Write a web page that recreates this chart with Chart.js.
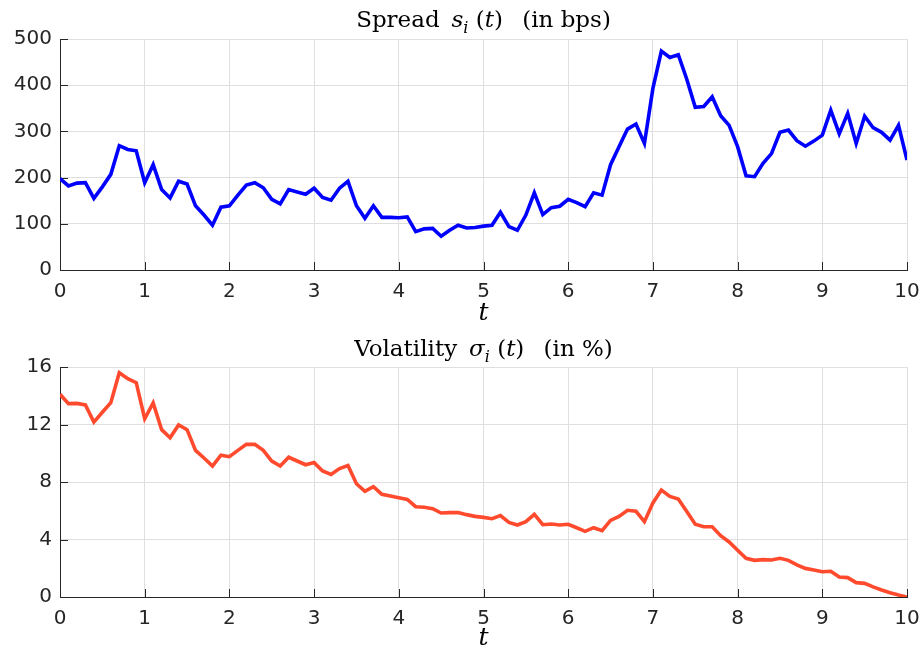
<!DOCTYPE html>
<html>
<head>
<meta charset="utf-8">
<title>Spread and volatility</title>
<script src="https://cdn.jsdelivr.net/npm/chart.js@4/dist/chart.umd.min.js"></script>
<style>
  body { margin: 0; background: #fff; }
  canvas { position: absolute; left: 0; }
</style>
</head>
<body>
<canvas id="spreadChart" width="922" height="326" style="top:0"></canvas>
<canvas id="volChart" width="922" height="325" style="top:326px"></canvas>
<script>
const tValues = [
  0, 0.1, 0.2, 0.3, 0.4, 0.5, 0.6, 0.7, 0.8, 0.9,
  1, 1.1, 1.2, 1.3, 1.4, 1.5, 1.6, 1.7, 1.8, 1.9,
  2, 2.1, 2.2, 2.3, 2.4, 2.5, 2.6, 2.7, 2.8, 2.9,
  3, 3.1, 3.2, 3.3, 3.4, 3.5, 3.6, 3.7, 3.8, 3.9,
  4, 4.1, 4.2, 4.3, 4.4, 4.5, 4.6, 4.7, 4.8, 4.9,
  5, 5.1, 5.2, 5.3, 5.4, 5.5, 5.6, 5.7, 5.8, 5.9,
  6, 6.1, 6.2, 6.3, 6.4, 6.5, 6.6, 6.7, 6.8, 6.9,
  7, 7.1, 7.2, 7.3, 7.4, 7.5, 7.6, 7.7, 7.8, 7.9,
  8, 8.1, 8.2, 8.3, 8.4, 8.5, 8.6, 8.7, 8.8, 8.9,
  9, 9.1, 9.2, 9.3, 9.4, 9.5, 9.6, 9.7, 9.8, 9.9,
  10
];

// spread s_i(t), bps
const spreadValues = [
  198, 182, 188, 189, 155, 180, 207, 269, 261, 258,
  189, 228, 174, 156, 192, 186, 139, 119, 97, 136,
  139, 162, 184, 189, 178, 153, 143, 174, 169, 164,
  177, 157, 151, 177, 192, 139, 112, 139, 114, 114,
  113, 115, 83, 89, 90, 73, 86, 97, 91, 92,
  95, 97, 125, 94, 86, 119, 167, 120, 135, 138,
  153, 146, 137, 167, 162, 228, 267, 305, 316, 274,
  393, 474, 460, 466, 413, 352, 354, 375, 334, 313,
  267, 204, 202, 231, 252, 298, 303, 280, 268, 279,
  292, 346, 295, 339, 274, 333, 308, 298, 281, 313,
  238
];

// volatility sigma_i(t), %
const volValues = [
  14.1, 13.45, 13.47, 13.36, 12.17, 12.85, 13.52, 15.6, 15.19, 14.91,
  12.4, 13.5, 11.64, 11.08, 11.97, 11.64, 10.2, 9.67, 9.11, 9.86,
  9.76, 10.2, 10.62, 10.62, 10.2, 9.46, 9.11, 9.72, 9.46, 9.2,
  9.35, 8.77, 8.53, 8.93, 9.14, 7.88, 7.35, 7.68, 7.14, 7.03,
  6.91, 6.79, 6.28, 6.24, 6.14, 5.84, 5.87, 5.87, 5.73, 5.61,
  5.54, 5.45, 5.66, 5.19, 5.01, 5.24, 5.75, 5.03, 5.08, 5.01,
  5.06, 4.82, 4.57, 4.82, 4.61, 5.33, 5.61, 6.03, 5.96, 5.24,
  6.54, 7.44, 7.0, 6.82, 5.94, 5.06, 4.89, 4.89, 4.27, 3.83,
  3.25, 2.69, 2.55, 2.6, 2.57, 2.69, 2.55, 2.23, 1.99, 1.88,
  1.76, 1.79, 1.39, 1.35, 1.0, 0.95, 0.7, 0.49, 0.3, 0.14,
  0
];

const spreadTicks = { min: 0, max: 500, step: 100 };
const volTicks = { min: 0, max: 16, step: 4 };
const xTicks = { min: 0, max: 10, step: 1 };

// title pieces: [text, style]  n = normal, i = italic, s = italic subscript
const spreadTitle = [["Spread \u2009", "n"], ["s", "i"], ["i", "s"], [" (", "n"], ["t", "i"], [")  \u2009(in bps)", "n"]];
const volTitle = [["Volatility \u2009", "n"], ["σ", "i"], ["i", "s"], [" (", "n"], ["t", "i"], [")  \u2009(in %)", "n"]];
const xLabel = "t";

const AXIS = "#262626";
const GRID = "#dfdfdf";
const SERIF = "'DejaVu Serif', 'Liberation Serif', serif";
const SANS = "'DejaVu Sans', 'Liberation Sans', sans-serif";

const mathTitle = {
  id: "mathTitle",
  afterDraw(chart, args, opts) {
    const ctx = chart.ctx;
    const size = opts.size;
    const fontFor = (st) => {
      if (st === "i") return `italic ${size}px ${SERIF}`;
      if (st === "s") return `italic ${Math.round(size * 0.7)}px ${SERIF}`;
      return `${size}px ${SERIF}`;
    };
    ctx.save();
    let total = 0;
    for (const [txt, st] of opts.parts) {
      ctx.font = fontFor(st);
      total += ctx.measureText(txt).width;
    }
    const area = chart.chartArea;
    let x = (area.left + area.right) / 2 - total / 2;
    ctx.fillStyle = "#000";
    ctx.textBaseline = "alphabetic";
    ctx.textAlign = "left";
    for (const [txt, st] of opts.parts) {
      ctx.font = fontFor(st);
      const dy = st === "s" ? size * 0.25 : 0;
      ctx.fillText(txt, x, opts.baseline + dy);
      x += ctx.measureText(txt).width;
    }
    ctx.restore();
  },
};

// MATLAB style ticks pointing into the plot
const inwardTicks = {
  id: "inwardTicks",
  beforeDatasetsDraw(chart) {
    const ctx = chart.ctx;
    const { left, bottom } = chart.chartArea;
    const len = 8;
    ctx.save();
    ctx.strokeStyle = AXIS;
    ctx.lineWidth = 1;
    ctx.beginPath();
    chart.scales.x.ticks.forEach((tk) => {
      const px = Math.round(chart.scales.x.getPixelForValue(tk.value)) + 0.5;
      ctx.moveTo(px, bottom);
      ctx.lineTo(px, bottom - len);
    });
    chart.scales.y.ticks.forEach((tk) => {
      const py = Math.round(chart.scales.y.getPixelForValue(tk.value)) + 0.5;
      ctx.moveTo(left, py);
      ctx.lineTo(left + len, py);
    });
    ctx.stroke();
    ctx.restore();
  },
};

function makeChart(canvasId, values, color, yRange, titleParts, layout) {
  const points = tValues.map((t, i) => ({ x: t, y: values[i] }));
  return new Chart(document.getElementById(canvasId), {
    type: "line",
    data: {
      datasets: [{
        data: points,
        borderColor: color,
        borderWidth: 3.6,
        pointRadius: 0,
        tension: 0,
        fill: false,
      }],
    },
    options: {
      responsive: false,
      animation: false,
      layout: { padding: { top: layout.top, right: 15, left: 0, bottom: 0 } },
      plugins: {
        legend: { display: false },
        tooltip: { enabled: false },
        mathTitle: { parts: titleParts, size: 23, baseline: layout.baseline },
      },
      scales: {
        x: {
          type: "linear",
          min: xTicks.min,
          max: xTicks.max,
          afterFit: (s) => {
            s.height = layout.xHeight;
            s.paddingLeft = 0;
            s.paddingRight = 0;
          },
          ticks: { stepSize: xTicks.step, color: AXIS, padding: 10, maxRotation: 0,
                   font: { family: SANS, size: 20 } },
          grid: { color: GRID, drawTicks: false },
          border: { display: true, color: AXIS, width: 1 },
          title: { display: true, text: xLabel, color: "#000", padding: 0,
                   font: { family: SERIF, style: "italic", size: 25, lineHeight: 1.0 } },
        },
        y: {
          min: yRange.min,
          max: yRange.max,
          afterFit: (s) => { s.width = 60; },
          ticks: { stepSize: yRange.step, color: AXIS, padding: 8,
                   font: { family: SANS, size: 20 } },
          grid: { color: GRID, drawTicks: false },
          border: { display: true, color: AXIS, width: 1 },
        },
      },
    },
    plugins: [inwardTicks, mathTitle],
  });
}

makeChart("spreadChart", spreadValues, "#0000ff", spreadTicks, spreadTitle,
  { top: 39, baseline: 27, xHeight: 56 });
makeChart("volChart", volValues, "#ff4a2e", volTicks, volTitle,
  { top: 41, baseline: 30, xHeight: 54 });
</script>
</body>
</html>
